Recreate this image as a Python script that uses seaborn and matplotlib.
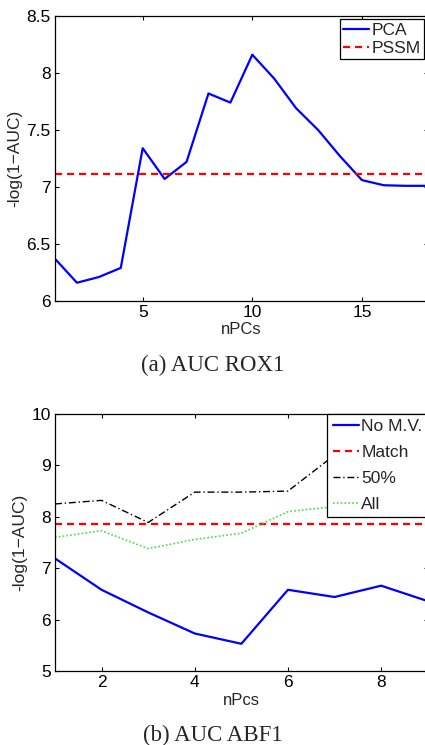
import matplotlib
matplotlib.use('Agg')
import pandas as pd
import matplotlib.pyplot as plt
import seaborn as sns

# Data (a) AUC ROX1
npcs_a = list(range(1, 19))
pca_auc = [6.37, 6.16, 6.21, 6.29, 7.34, 7.07, 7.22, 7.82, 7.74, 8.16,
           7.95, 7.69, 7.50, 7.27, 7.06, 7.015, 7.01, 7.01]
pssm_auc = 7.11

# Data (b) AUC ABF1
npcs_b = list(range(1, 10))
nomv_auc = [7.19, 6.58, 6.14, 5.73, 5.53, 6.58, 6.44, 6.66, 6.36]
match_auc = 7.86
half_auc = [8.25, 8.32, 7.89, 8.48, 8.48, 8.50, 9.20, 9.40, 9.30]
all_auc = [7.60, 7.73, 7.38, 7.56, 7.68, 8.10, 8.20, 8.20, 8.30]

sns.set_style('ticks')
plt.rcParams['font.family'] = ['Liberation Sans', 'DejaVu Sans']
plt.rcParams['font.size'] = 12
plt.rcParams['xtick.direction'] = 'in'
plt.rcParams['ytick.direction'] = 'in'
plt.rcParams['xtick.top'] = True
plt.rcParams['ytick.right'] = True
plt.rcParams['xtick.major.size'] = 3
plt.rcParams['ytick.major.size'] = 3
plt.rcParams['axes.linewidth'] = 0.9
plt.rcParams['xtick.color'] = 'black'
plt.rcParams['ytick.color'] = 'black'
plt.rcParams['axes.edgecolor'] = 'black'

fig = plt.figure(figsize=(4.25, 7.45), dpi=100)
ax1 = fig.add_axes([0.1294, 0.596, 0.877, 0.3826])
ax2 = fig.add_axes([0.1294, 0.0993, 0.877, 0.345])

# --- (a)
df_a = pd.DataFrame({'nPCs': npcs_a, 'auc': pca_auc})
sns.lineplot(data=df_a, x='nPCs', y='auc', ax=ax1, color='blue', linewidth=1.6, label='PCA')
ax1.axhline(pssm_auc, color='red', linewidth=1.6, dashes=(3.2, 2.2), label='PSSM')
ax1.set_xlim(1, 18)
ax1.set_ylim(6, 8.5)
ax1.set_xticks([5, 10, 15])
ax1.set_yticks([6, 6.5, 7, 7.5, 8, 8.5])
ax1.set_yticklabels(['6', '6.5', '7', '7.5', '8', '8.5'])
ax1.set_xlabel('nPCs', labelpad=1, fontsize=12)
ax1.set_ylabel('-log(1\u2212AUC)', labelpad=3, fontsize=12.5)
leg1 = ax1.legend(loc='upper right', fontsize=12.5, frameon=True, fancybox=False,
                  edgecolor='black', framealpha=1, borderaxespad=0.2,
                  handlelength=1.5, handletextpad=0.15, labelspacing=0.15,
                  borderpad=0.2)
leg1.get_frame().set_linewidth(0.9)

# --- (b)
df_b = pd.DataFrame({'nPcs': npcs_b, 'nomv': nomv_auc, 'half': half_auc, 'all': all_auc})
sns.lineplot(data=df_b, x='nPcs', y='nomv', ax=ax2, color='blue', linewidth=1.6, label='No M.V.')
ax2.axhline(match_auc, color='red', linewidth=1.6, dashes=(3.2, 2.2), label='Match')
sns.lineplot(data=df_b, x='nPcs', y='half', ax=ax2, color='black', linewidth=1.0,
             dashes=False, linestyle=(0, (5, 2, 1, 2)), label='50%')
sns.lineplot(data=df_b, x='nPcs', y='all', ax=ax2, color='#44dd44', linewidth=1.2,
             dashes=False, linestyle=(0, (1, 1.3)), label='All')
ax2.set_xlim(1, 9)
ax2.set_ylim(5, 10)
ax2.set_xticks([2, 4, 6, 8])
ax2.set_yticks([5, 6, 7, 8, 9, 10])
ax2.set_xlabel('nPcs', labelpad=2, fontsize=12)
ax2.set_ylabel('-log(1\u2212AUC)', labelpad=3, fontsize=12.5)
leg2 = ax2.legend(loc='upper right', fontsize=12.5, frameon=True, fancybox=False,
                  edgecolor='black', framealpha=1, borderaxespad=0.0,
                  handlelength=1.5, handletextpad=0.15, labelspacing=0.62,
                  borderpad=0.3)
leg2.get_frame().set_linewidth(0.9)

for ax in (ax1, ax2):
    ax.tick_params(labelsize=12.5, pad=3, width=0.8)
    for s in ax.spines.values():
        s.set_visible(True)
        s.set_color('black')

# captions
fig.text(0.5, 1 - 365 / 745, '(a) AUC ROX1', ha='center', va='center',
         fontsize=16.5, family=['Liberation Serif', 'DejaVu Serif'])
fig.text(0.5, 1 - 735 / 745, '(b) AUC ABF1', ha='center', va='center',
         fontsize=16.5, family=['Liberation Serif', 'DejaVu Serif'])

fig.savefig('out.png', dpi=100)
plt.close()
